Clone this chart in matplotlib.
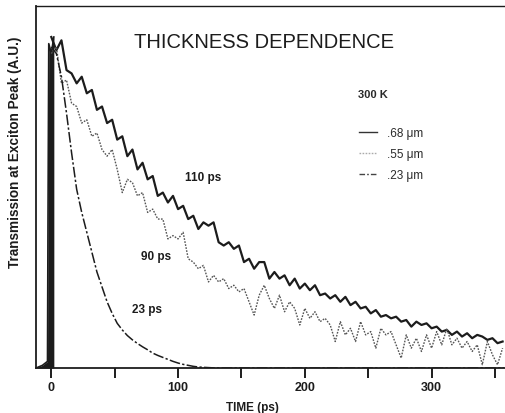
import numpy as np
import matplotlib
matplotlib.use("Agg")
import matplotlib.pyplot as plt
from matplotlib.lines import Line2D

# ---------------- data ----------------
# leading edge (shared by the three traces), time in ps
t_rise = [-12, -7, -3, -2.6, -2.0, 0.0, 2.0]
v_rise = [0.0, 0.008, 0.02, 0.45, 0.98, 0.95, 1.0]

# .68 um trace (solid), sampled every 4 ps from 0 to 356
t_68 = list(range(0, 357, 4))
v_68 = [1.00, 0.96, 0.99, 0.90, 0.89, 0.86, 0.88, 0.83, 0.84, 0.78,
        0.79, 0.74, 0.75, 0.69, 0.70, 0.64, 0.66, 0.60, 0.62, 0.57,
        0.58, 0.52, 0.53, 0.50, 0.52, 0.48, 0.49, 0.45, 0.46, 0.42,
        0.44, 0.43, 0.44, 0.38, 0.37, 0.38, 0.36, 0.37, 0.32, 0.33,
        0.30, 0.32, 0.32, 0.27, 0.29, 0.27, 0.28, 0.25, 0.27, 0.24,
        0.255, 0.235, 0.25, 0.22, 0.225, 0.21, 0.22, 0.20, 0.215, 0.19,
        0.20, 0.18, 0.185, 0.165, 0.175, 0.155, 0.16, 0.15, 0.155, 0.14,
        0.145, 0.125, 0.14, 0.13, 0.135, 0.12, 0.125, 0.11, 0.115, 0.10,
        0.11, 0.095, 0.105, 0.09, 0.10, 0.095, 0.085, 0.09, 0.075, 0.08]

# .55 um trace (dotted)
t_55 = list(range(0, 357, 4))
v_55 = [0.95, 0.97, 0.86, 0.87, 0.80, 0.79, 0.74, 0.75, 0.70, 0.71,
        0.66, 0.64, 0.66, 0.60, 0.53, 0.57, 0.56, 0.52, 0.53, 0.47,
        0.48, 0.45, 0.45, 0.39, 0.40, 0.39, 0.41, 0.33, 0.32, 0.30,
        0.31, 0.26, 0.28, 0.26, 0.27, 0.24, 0.25, 0.23, 0.24, 0.20,
        0.16, 0.22, 0.25, 0.21, 0.18, 0.22, 0.17, 0.20, 0.18, 0.13,
        0.18, 0.15, 0.17, 0.14, 0.15, 0.13, 0.08, 0.14, 0.10, 0.12,
        0.08, 0.14, 0.10, 0.11, 0.06, 0.12, 0.10, 0.11, 0.07, 0.03,
        0.10, 0.06, 0.09, 0.05, 0.10, 0.06, 0.11, 0.07, 0.12, 0.07,
        0.09, 0.06, 0.08, 0.05, 0.07, 0.01, 0.08, 0.04, 0.01, 0.06]

# .23 um trace (dash-dot)
t_23 = [0, 4, 8, 12, 16, 20, 24, 28, 32, 36, 40, 44, 48, 52, 56, 60,
        64, 68, 72, 76, 80, 84, 88, 92, 96, 100, 104, 108, 112, 116,
        120, 130, 357]
v_23 = [0.97, 0.95, 0.88, 0.77, 0.65, 0.54, 0.47, 0.41, 0.35, 0.29,
        0.245, 0.20, 0.165, 0.135, 0.115, 0.098, 0.085, 0.074, 0.064,
        0.055, 0.045, 0.038, 0.032, 0.026, 0.02, 0.015, 0.011, 0.008,
        0.005, 0.003, 0.002, 0.0, 0.0]

legend_labels = [".68 \u03bcm", ".55 \u03bcm", ".23 \u03bcm"]
lifetimes = ["110 ps", "90 ps", "23 ps"]
lifetime_pos = [(119.7, 0.577), (82.6, 0.338), (75.5, 0.178)]
xticks = [0, 50, 100, 150, 200, 250, 300, 350]
xticklabels = ["0", "", "100", "", "200", "", "300", ""]

# ---------------- figure ----------------
plt.rcParams["font.family"] = ["Liberation Sans", "DejaVu Sans"]
W, H = 505, 414
fig = plt.figure(figsize=(W / 100, H / 100), dpi=100)
ax = fig.add_axes([36 / W, (H - 369) / H, (W - 36) / W, 362 / H])

ink = "#1c1c1c"
dash_dot = (0, (7, 1.5, 1.5, 1.5))
dotted = (0, (1.2, 1.0))
ax.fill_between(t_rise, 0, v_rise, color=ink, lw=0)
ax.plot(t_rise, v_rise, color=ink, lw=1.2)
ax.plot(t_68, v_68, color=ink, lw=1.6)
ax.plot(t_55, v_55, color="#555555", lw=1.0, linestyle=dotted)
ax.plot(t_23, v_23, color=ink, lw=1.1, linestyle=dash_dot)

ax.set_xlim(-12.07, 357.9)
ax.set_ylim(0, 1.0937)

for s in ["left", "bottom", "top"]:
    ax.spines[s].set_linewidth(1.3)
    ax.spines[s].set_color(ink)
ax.spines["top"].set_linewidth(1.0)
ax.spines["right"].set_visible(False)

ax.set_yticks([])
ax.set_xticks(xticks)
ax.set_xticklabels(xticklabels, fontsize=9, fontweight="bold", color=ink)
ax.tick_params(axis="x", direction="out", length=7.2, width=1.4, pad=2, color=ink)

fig.text(252 / W, 1 - 408 / H, "TIME (ps)", ha="center", va="center",
         fontsize=8.5, fontweight="bold", color=ink)
fig.text(15 / W, 1 - 152 / H, "Transmission at Exciton Peak (A.U.)",
         rotation=90, ha="center", va="center", fontsize=9.8,
         fontweight="bold", color=ink)

ax.text(167.8, 0.985, "THICKNESS DEPENDENCE", ha="center", va="center",
        fontsize=14.5, color=ink)
ax.text(241.8, 0.828, "300 K", ha="left", va="center", fontsize=8,
        fontweight="bold", color="#2a2a2a")
for lab, (x, y) in zip(lifetimes, lifetime_pos):
    ax.text(x, y, lab, ha="center", va="center", fontsize=8.5,
            fontweight="bold", color=ink)

handles = [Line2D([], [], color="#333333", lw=1.0),
           Line2D([], [], color="#aaaaaa", lw=1.0, linestyle=dotted),
           Line2D([], [], color="#444444", lw=1.0, linestyle=(0, (4, 1.5, 1.2, 1.5)))]
leg = ax.legend(handles=handles, labels=legend_labels, loc="upper left",
                bbox_to_anchor=(359 / W, 1 - 128 / H),
                bbox_transform=fig.transFigure, frameon=False, fontsize=8.5,
                handlelength=1.55, handletextpad=0.85, labelspacing=0.75,
                borderpad=0, borderaxespad=0)
for t in leg.get_texts():
    t.set_color("#2a2a2a")

fig.savefig("out.png", dpi=100)
